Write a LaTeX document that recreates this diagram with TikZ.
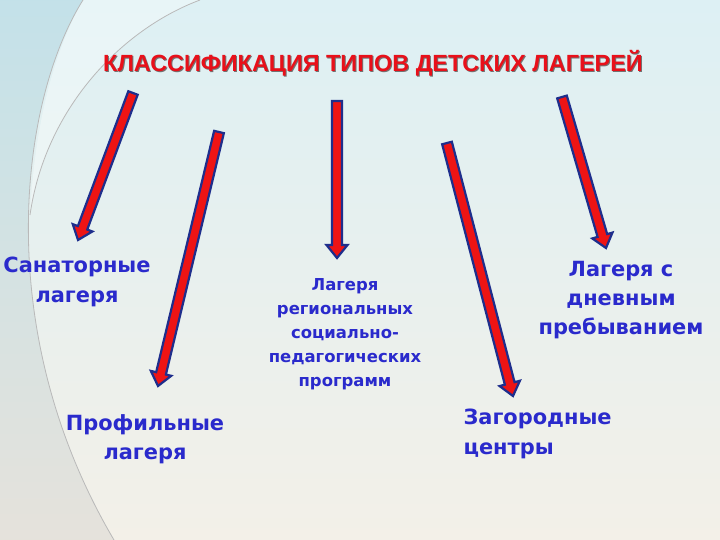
\documentclass[tikz,border=0pt]{standalone}
\usepackage{fontspec}
\setmainfont{DejaVu Sans}
\newfontfamily\titlefont{Liberation Sans}
\usetikzlibrary{calc}

\definecolor{arrowRed}{HTML}{EE1414}
\definecolor{arrowBlue}{HTML}{1E2E8C}
\definecolor{labelBlue}{HTML}{2A2ACC}
\definecolor{titleRed}{HTML}{E8101A}
\definecolor{skyTop}{HTML}{DDF0F4}
\definecolor{creamBottom}{HTML}{F3F0E8}
\definecolor{tealLeft}{HTML}{88BFCF}

\tikzset{
  campLabel/.style={text=labelBlue, align=center, font=\bfseries\fontsize{21}{29.5}\selectfont},
  smallLabel/.style={campLabel, font=\bfseries\fontsize{16.5}{24}\selectfont},
  blockArrow/.style={fill=arrowRed, draw=arrowBlue, line width=2.2bp, line join=miter},
  arcLine/.style={draw=gray!55, line width=0.8bp}
}

% block arrow from #1 to #2
\newcommand{\classArrow}[2]{%
  \coordinate (h) at ($(#2)!13bp!(#1)$);
  \draw[blockArrow] ($(#1)!5bp!90:(#2)$) -- ($(h)!5bp!90:(#2)$) -- ($(h)!10.5bp!90:(#2)$)
    -- (#2) -- ($(h)!10.5bp!-90:(#2)$) -- ($(h)!5bp!-90:(#2)$) -- ($(#1)!5bp!-90:(#2)$) -- cycle;
}

\begin{document}
\begin{tikzpicture}[x=1bp, y=-1bp]
    	% Background:
    	\useasboundingbox (0,0) rectangle (720,540);
    	\shade[top color=skyTop, bottom color=creamBottom] (0,0) rectangle (720,540);
    	\shade[top color=skyTop!70!tealLeft, middle color=tealLeft, bottom color=creamBottom!88!gray] (0,0) -- (83,0) .. controls (20,100) and (-10,330) .. (114,540) -- (0,540) -- cycle;
    	\fill[white, opacity=0.35] (83,0) -- (200,0) .. controls (120,30) and (45,110) .. (30,215) .. controls (35,120) and (55,50) .. (83,0) -- cycle;
    	\draw[arcLine] (83,0) .. controls (20,100) and (-10,330) .. (114,540);
    	\draw[arcLine] (200,0) .. controls (120,30) and (45,110) .. (30,215);
    	% Title:
    	\node[text=black!55, font=\titlefont\bfseries\fontsize{23.5}{28}\selectfont] (titleShadow) at (374,64) {КЛАССИФИКАЦИЯ ТИПОВ ДЕТСКИХ ЛАГЕРЕЙ};
    	\node[text=titleRed, font=\titlefont\bfseries\fontsize{23.5}{28}\selectfont] (title) at (373,63) {КЛАССИФИКАЦИЯ ТИПОВ ДЕТСКИХ ЛАГЕРЕЙ};
    	% Labels:
    	\node[campLabel] (sanat) at (77,282) {Санаторные\\лагеря};
    	\node[campLabel] (profil) at (145,439) {Профильные\\лагеря};
    	\node[smallLabel] (region) at (345,334) {Лагеря\\региональных\\социально-\\педагогических\\программ};
    	\node[campLabel] (dnev) at (621,300) {Лагеря с\\дневным\\пребыванием};
    	\node[campLabel, align=left, anchor=west] (zagor) at (460,434) {Загородные\\центры};
    	% Arrows:
    	\coordinate (sanatFrom) at (133,93);
    	\coordinate (sanatTo) at (78,240);
    	\coordinate (profilFrom) at (219,132);
    	\coordinate (profilTo) at (158,386);
    	\coordinate (regionFrom) at (337,101);
    	\coordinate (regionTo) at (337,258);
    	\coordinate (zagorFrom) at (447,143);
    	\coordinate (zagorTo) at (513,396);
    	\coordinate (dnevFrom) at (562,97);
    	\coordinate (dnevTo) at (606,248);
    	\classArrow{sanatFrom}{sanatTo}
    	\classArrow{profilFrom}{profilTo}
    	\classArrow{regionFrom}{regionTo}
    	\classArrow{zagorFrom}{zagorTo}
    	\classArrow{dnevFrom}{dnevTo}
\end{tikzpicture}
\end{document}
